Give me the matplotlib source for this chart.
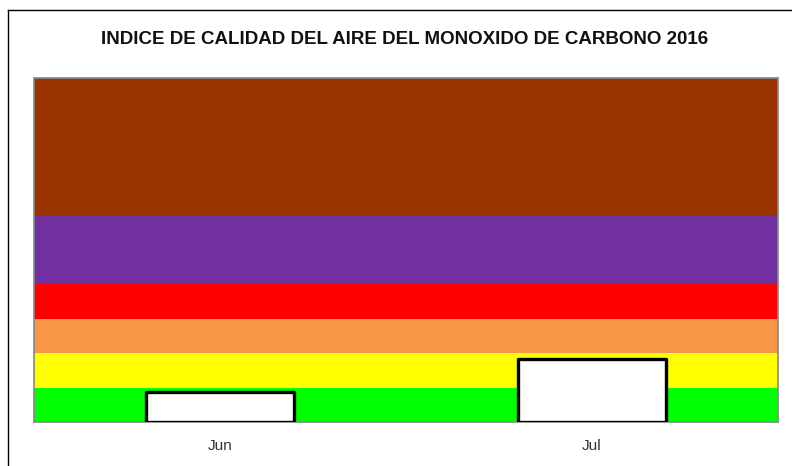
import matplotlib
matplotlib.use("Agg")
import matplotlib.pyplot as plt
from matplotlib.lines import Line2D

plt.rcParams['font.family'] = ['Liberation Sans', 'DejaVu Sans']

# datos
meses = ['Jun', 'Jul']
valores = [43, 92]
# bandas del indice (limites y colores)
limites = [0, 50, 100, 150, 200, 300, 500]
colores = ['#00FF00', '#FFFF00', '#F79646', '#FF0000', '#7030A0', '#993300']

fig = plt.figure(figsize=(7.92, 4.66), dpi=100)
ax = fig.add_axes([34/792, 1-422/466, (778-34)/792, (422-78)/466])

for i in range(len(colores)):
    ax.axhspan(limites[i], limites[i+1], color=colores[i], lw=0, zorder=0)

x = range(len(meses))
ax.bar(x, valores, width=0.4, color='white', edgecolor='black',
       linewidth=2.4, joinstyle='round', zorder=3)

ax.set_xlim(-0.5, len(meses) - 0.5)
ax.set_ylim(limites[0], limites[-1])
ax.set_xticks(list(x))
ax.set_xticklabels(meses, fontsize=11, color='#333333')
ax.tick_params(axis='x', length=0, pad=12)
ax.set_yticks([])
for s in ax.spines.values():
    s.set_color('#888888')
    s.set_linewidth(1.2)

fig.text(405/792, 1-39/466, 'INDICE DE CALIDAD DEL AIRE DEL MONOXIDO DE CARBONO 2016',
         ha='center', va='center', fontsize=13.5, fontweight='bold', color='#111111')

# marco exterior
fig.add_artist(Line2D([8/792, 8/792], [0, 1-10/466], transform=fig.transFigure, color='black', lw=1))
fig.add_artist(Line2D([8/792, 1], [1-10/466, 1-10/466], transform=fig.transFigure, color='black', lw=1))

fig.savefig('out.png', dpi=100)
